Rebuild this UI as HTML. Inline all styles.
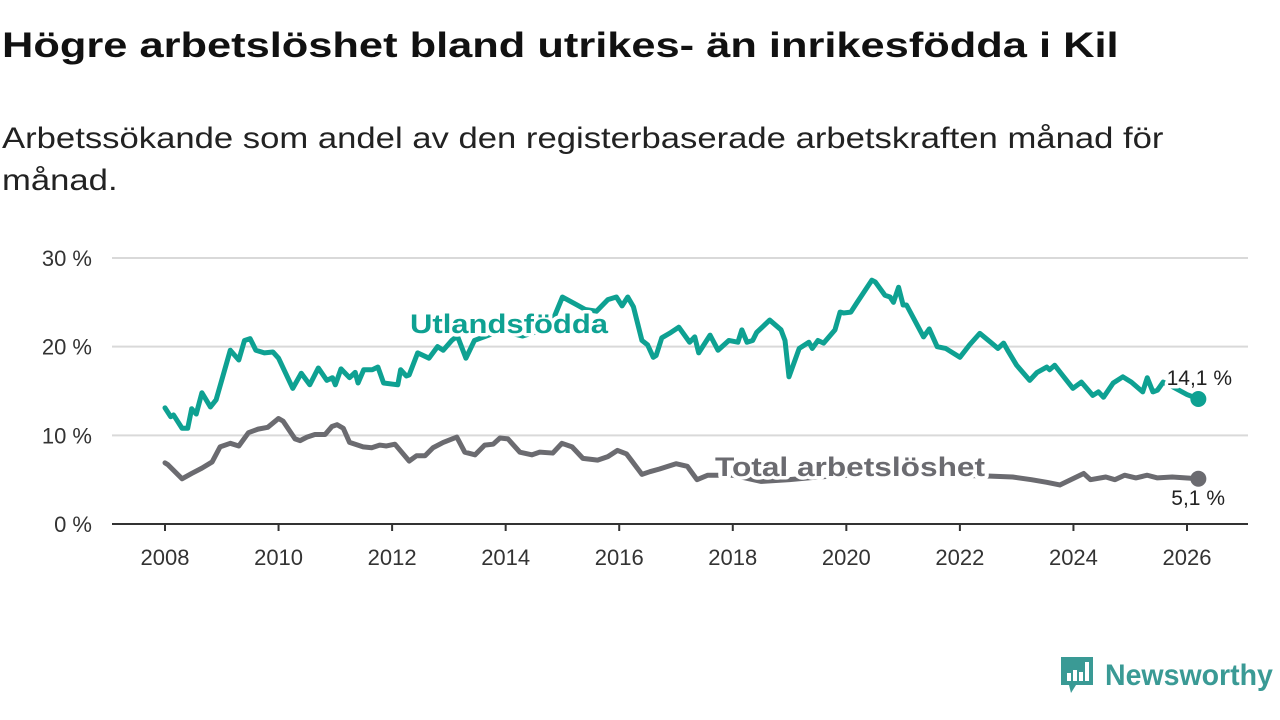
<!DOCTYPE html>
<html><head><meta charset="utf-8">
<style>
body{margin:0;width:1280px;height:720px;background:#fff;font-family:"Liberation Sans",sans-serif;overflow:hidden;position:relative}
#title{position:absolute;left:2px;top:26px;font-size:35px;font-weight:bold;color:#111;margin:0;white-space:nowrap;transform:scaleX(1.24);transform-origin:0 0}
#sub{position:absolute;left:2px;top:118px;font-size:30px;line-height:42px;color:#222;white-space:nowrap}
#sub div{transform:scaleX(1.155);transform-origin:0 0}
svg{position:absolute;left:0;top:0}
</style></head><body>
<h1 id="title">Högre arbetslöshet bland utrikes- än inrikesfödda i Kil</h1>
<div id="sub"><div>Arbetssökande som andel av den registerbaserade arbetskraften månad för</div><div>månad.</div></div>
<svg id="chart" width="1280" height="720"></svg>
<div style="position:absolute;left:1059px;top:655px;display:flex;align-items:center">
<svg width="36" height="42" style="position:static"><path d="M2 2h32v28H17l-5 8-2-8H2z" fill="#3a9a95"/><rect x="8" y="18" width="4" height="8" fill="#fff"/><rect x="14" y="15" width="4" height="11" fill="#fff"/><rect x="20" y="17" width="4" height="9" fill="#fff"/><rect x="26" y="7" width="4" height="19" fill="#fff"/></svg>
<span style="font-size:30px;color:#3a9a95;margin-left:10px;font-weight:bold;display:inline-block;transform:scaleX(0.95);transform-origin:0 50%">Newsworthy</span></div>
<script>
const yTicks=[0,10,20,30];
const yTickLabels=["0 %","10 %","20 %","30 %"];
const xTicks=[2008,2010,2012,2014,2016,2018,2020,2022,2024,2026];
const utlDates=[2008.0,2008.1,2008.15,2008.3,2008.4,2008.47,2008.55,2008.65,2008.8,2008.9,2009.15,2009.3,2009.4,2009.5,2009.6,2009.75,2009.9,2010.0,2010.25,2010.4,2010.55,2010.7,2010.85,2010.95,2011.0,2011.1,2011.25,2011.35,2011.4,2011.5,2011.65,2011.75,2011.85,2012.1,2012.15,2012.25,2012.3,2012.45,2012.65,2012.8,2012.9,2013.05,2013.15,2013.3,2013.45,2013.7,2013.9,2014.1,2014.3,2014.6,2014.8,2015.0,2015.2,2015.4,2015.6,2015.8,2015.95,2016.05,2016.15,2016.25,2016.4,2016.5,2016.6,2016.65,2016.75,2016.91,2017.05,2017.24,2017.33,2017.4,2017.6,2017.74,2017.93,2018.09,2018.16,2018.25,2018.35,2018.42,2018.65,2018.85,2018.92,2018.99,2019.17,2019.34,2019.4,2019.5,2019.6,2019.8,2019.89,2019.95,2020.08,2020.18,2020.45,2020.51,2020.68,2020.77,2020.83,2020.92,2021.0,2021.06,2021.36,2021.46,2021.6,2021.75,2022.0,2022.17,2022.35,2022.54,2022.67,2022.77,2022.84,2023.0,2023.23,2023.36,2023.53,2023.58,2023.67,2023.78,2023.99,2024.14,2024.34,2024.44,2024.53,2024.7,2024.87,2025.02,2025.22,2025.3,2025.4,2025.48,2025.58,2025.74,2026.0,2026.2];
const utlValues=[13.1,12.1,12.3,10.8,10.8,13.0,12.4,14.8,13.2,14.0,19.6,18.5,20.7,20.9,19.6,19.3,19.4,18.7,15.3,17.0,15.7,17.6,16.2,16.5,15.7,17.5,16.5,17.1,15.9,17.4,17.4,17.7,15.9,15.7,17.4,16.7,16.8,19.3,18.7,20.0,19.6,20.7,21.2,18.7,20.7,21.3,21.8,21.5,21.2,21.8,22.5,25.6,24.9,24.2,24.0,25.3,25.6,24.6,25.6,24.5,20.7,20.2,18.8,19.0,21.0,21.6,22.2,20.5,21.1,19.3,21.3,19.6,20.7,20.5,21.9,20.5,20.7,21.6,23.0,21.9,20.7,16.6,19.8,20.5,19.8,20.7,20.4,21.9,23.9,23.8,23.9,24.9,27.5,27.3,25.8,25.6,25.0,26.7,24.7,24.7,21.1,22.0,20.0,19.8,18.8,20.2,21.5,20.5,19.8,20.4,19.6,17.9,16.2,17.1,17.7,17.4,17.9,17.0,15.3,16.0,14.5,14.9,14.3,15.9,16.6,16.0,14.9,16.5,14.9,15.1,16.0,15.5,14.6,14.1];
const totDates=[2008.0,2008.05,2008.3,2008.47,2008.65,2008.83,2008.97,2009.15,2009.3,2009.47,2009.64,2009.81,2010.0,2010.08,2010.29,2010.38,2010.5,2010.64,2010.82,2010.94,2011.03,2011.14,2011.25,2011.49,2011.64,2011.78,2011.9,2012.05,2012.3,2012.43,2012.58,2012.72,2012.9,2013.14,2013.28,2013.46,2013.63,2013.78,2013.9,2014.04,2014.25,2014.46,2014.6,2014.83,2014.99,2015.17,2015.36,2015.62,2015.8,2015.97,2016.13,2016.4,2016.54,2016.71,2017.0,2017.2,2017.37,2017.56,2018.0,2018.5,2019.0,2019.5,2020.0,2020.5,2021.0,2021.5,2022.0,2022.54,2022.93,2023.26,2023.53,2023.76,2024.18,2024.3,2024.57,2024.73,2024.9,2025.1,2025.3,2025.48,2025.74,2026.2];
const totValues=[6.9,6.7,5.1,5.7,6.3,7.0,8.7,9.1,8.8,10.3,10.7,10.9,11.9,11.6,9.6,9.4,9.8,10.1,10.1,11.0,11.2,10.8,9.2,8.7,8.6,8.9,8.8,9.0,7.1,7.7,7.7,8.6,9.2,9.8,8.1,7.8,8.9,9.0,9.7,9.6,8.1,7.8,8.1,8.0,9.1,8.7,7.4,7.2,7.6,8.3,7.9,5.6,5.9,6.2,6.8,6.5,5.0,5.5,5.5,4.8,5.0,5.3,5.5,6.5,6.4,5.8,5.5,5.4,5.3,5.0,4.7,4.4,5.7,5.0,5.3,5.0,5.5,5.2,5.5,5.2,5.3,5.1];
const NS="http://www.w3.org/2000/svg";
const svg=document.getElementById('chart');
const X=d=>165+(d-2008)*(1187-165)/18;
const Y=v=>524-v*(524-258)/30;
function mk(t,a,txt){const e=document.createElementNS(NS,t);for(const k in a)e.setAttribute(k,a[k]);if(txt!==undefined)e.textContent=txt;svg.appendChild(e);return e;}
yTicks.forEach((v,i)=>{
  if(v>0){const g=mk('line',{x1:112,x2:1248,y1:Y(v),y2:Y(v),stroke:'#d9d9d9','stroke-width':2});
  
  }
  const t=mk('text',{x:92,y:Y(v)+8,'text-anchor':'end','font-size':22,fill:'#333'},yTickLabels[i]);
  
  
});
const ax=mk('line',{x1:112,x2:1248,y1:524,y2:524,stroke:'#333','stroke-width':2});


xTicks.forEach(v=>{
  const tk=mk('line',{x1:X(v),x2:X(v),y1:524,y2:531,stroke:'#333','stroke-width':2});
  
  
  const t=mk('text',{x:X(v),y:565,'text-anchor':'middle','font-size':22,fill:'#333'},String(v));
  
  
});
function series(d,v,col,name){
  const p=mk('polyline',{points:d.map((x,i)=>X(x)+','+Y(v[i])).join(' '),fill:'none',stroke:col,'stroke-width':5,'stroke-linejoin':'round','stroke-linecap':'round'});
  
  
  const c=mk('circle',{cx:X(d[d.length-1]),cy:Y(v[v.length-1]),r:8,fill:col});
  
  
}
series(totDates,totValues,'#6b6b70','total');
series(utlDates,utlValues,'#0ea192','utlandsfodda');
function lbl(x,y,txt,col,w,anchor,size,name,len){
  const a={x:x,y:y,fill:col,'font-size':size,'font-weight':w,'text-anchor':anchor,stroke:'#fff','stroke-width':7,'paint-order':'stroke','stroke-linejoin':'round'};
  if(len){a.textLength=len;a.lengthAdjust='spacingAndGlyphs';}
  const t=mk('text',a,txt);
  
  
}
lbl(410,333,'Utlandsfödda','#0ea192','bold','start',27,'utlandsfodda-label',198);
lbl(715,476,'Total arbetslöshet','#6b6b70','bold','start',27,'total-label',270);
lbl(1232,385,'14,1 %','#222','normal','end',21,'utlandsfodda-value-label');
lbl(1225,505,'5,1 %','#222','normal','end',21,'total-value-label');
</script>
</body></html>
